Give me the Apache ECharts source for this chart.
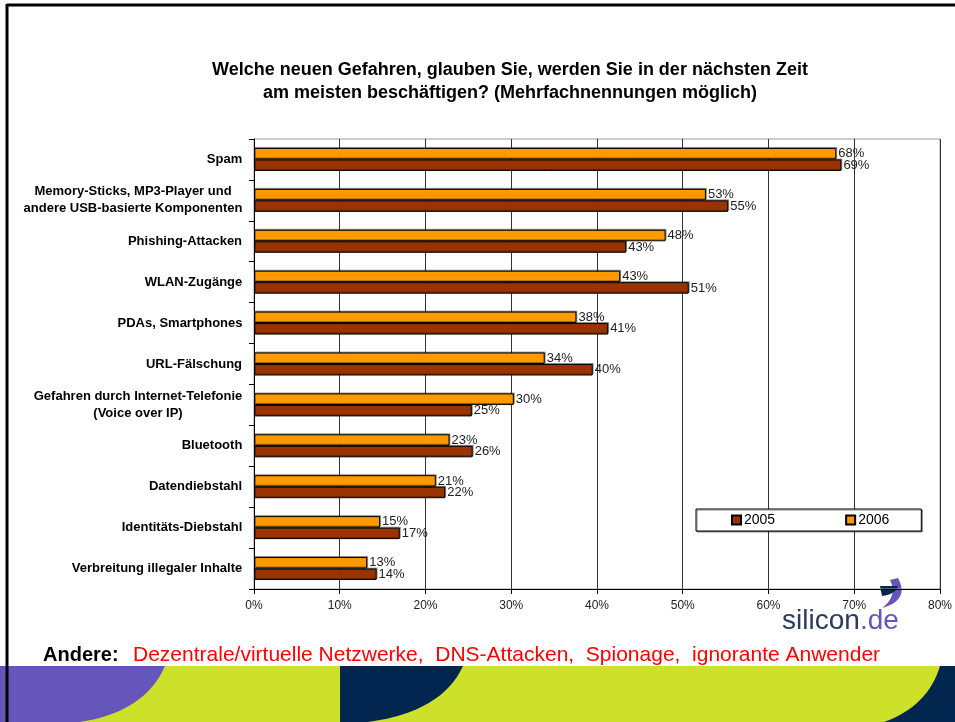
<!DOCTYPE html>
<html>
<head>
<meta charset="utf-8">
<title>Neue Gefahren</title>
<script src="https://cdn.jsdelivr.net/npm/echarts@6/dist/echarts.min.js"></script>
<style>
html, body { margin: 0; padding: 0; background: #fff; }
#chart { width: 955px; height: 722px; }
</style>
</head>
<body>
<div id="chart"></div>
<script>
var categories = [
	'Spam',
	'Memory-Sticks, MP3-Player und\nandere USB-basierte Komponenten',
	'Phishing-Attacken',
	'WLAN-Zugänge',
	'PDAs, Smartphones',
	'URL-Fälschung',
	'Gefahren durch Internet-Telefonie\n(Voice over IP)',
	'Bluetooth',
	'Datendiebstahl',
	'Identitäts-Diebstahl',
	'Verbreitung illegaler Inhalte'
];
// bar lengths
var values2005 = [68.5, 55.3, 43.4, 50.7, 41.3, 39.5, 25.4, 25.5, 22.3, 17.0, 14.3];
var values2006 = [67.9, 52.7, 48.0, 42.7, 37.6, 33.9, 30.3, 22.8, 21.2, 14.7, 13.2];
// printed labels
var labels2005 = ['69%', '55%', '43%', '51%', '41%', '40%', '25%', '26%', '22%', '17%', '14%'];
var labels2006 = ['68%', '53%', '48%', '43%', '38%', '34%', '30%', '23%', '21%', '15%', '13%'];
var seriesNames = ['2005', '2006'];
var xMin = 0, xMax = 80, xStep = 10;

var fontFam = '"Liberation Sans", Arial, sans-serif';

// centre the lines of a two line category label
var ctx = document.createElement('canvas').getContext('2d');
ctx.font = 'bold 13px ' + fontFam;
var rich = {};
categories.forEach(function (c, i) {
	var w = 0;
	c.split('\n').forEach(function (l) { w = Math.max(w, ctx.measureText(l).width); });
	rich['c' + i] = {
		width: Math.ceil(w) + 1,
		align: 'center',
		fontSize: 13,
		fontWeight: 'bold',
		fontFamily: fontFam,
		lineHeight: 17,
		color: '#000'
	};
});

// quadratic curve -> points, for the slide decoration
function qcurve(p0, c, p1) {
	var pts = [];
	for (var k = 0; k <= 16; k++) {
		var t = k / 16, u = 1 - t;
		pts.push([u * u * p0[0] + 2 * u * t * c[0] + t * t * p1[0], u * u * p0[1] + 2 * u * t * c[1] + t * t * p1[1]]);
	}
	return pts;
}

var myChart = echarts.init(document.getElementById('chart'));

var option = {
	backgroundColor: '#fff',
	animation: false,
	title: {
		text: 'Welche neuen Gefahren, glauben Sie, werden Sie in der nächsten Zeit\nam meisten beschäftigen? (Mehrfachnennungen möglich)',
		left: 505,
		top: 54,
		textAlign: 'center',
		textStyle: {
			fontSize: 18,
			fontWeight: 'bold',
			fontFamily: fontFam,
			color: '#000',
			lineHeight: 23
		}
	},
	legend: {
		data: seriesNames,
		left: 696,
		top: 509,
		icon: 'rect',
		itemWidth: 9,
		itemHeight: 9,
		itemGap: 70,
		padding: [4, 32, 4, 35],
		backgroundColor: '#fff',
		borderColor: '#000',
		borderWidth: 1,
		shadowColor: 'rgba(0,0,0,0.45)',
		shadowOffsetX: 1,
		shadowOffsetY: 1,
		textStyle: {
			fontSize: 14,
			fontFamily: fontFam,
			color: '#000',
			lineHeight: 12,
			padding: [0, 0, 0, -2]
		}
	},
	grid: {
		left: 254,
		right: 15,
		top: 139,
		bottom: 133,
		show: true,
		borderColor: '#999',
		borderWidth: 1,
		backgroundColor: 'transparent'
	},
	xAxis: {
		type: 'value',
		min: xMin,
		max: xMax,
		interval: xStep,
		axisLine: { show: true, lineStyle: { color: '#000', width: 1 } },
		axisTick: { show: true, length: 5, lineStyle: { color: '#000' } },
		splitLine: { show: true, lineStyle: { color: '#333', width: 1 } },
		axisLabel: {
			formatter: '{value}%',
			fontSize: 12,
			fontFamily: fontFam,
			color: '#222',
			margin: 11
		}
	},
	yAxis: {
		type: 'category',
		inverse: true,
		data: categories,
		axisLine: { show: true, lineStyle: { color: '#000', width: 1 } },
		axisTick: { show: true, length: 5, lineStyle: { color: '#000' } },
		axisLabel: {
			interval: 0,
			margin: 11,
			formatter: function (v, i) {
				return v.split('\n').map(function (l) { return '{c' + i + '|' + l + '}'; }).join('\n');
			},
			rich: rich
		}
	},
	series: [
		{
			name: '2006',
			type: 'bar',
			data: values2006,
			barWidth: 11.5,
			barGap: '0%',
			itemStyle: {
				color: '#FF9900',
				borderColor: '#000',
				borderWidth: 1,
				shadowColor: 'rgba(0,0,0,0.35)',
				shadowOffsetX: 1,
				shadowOffsetY: -1
			},
			label: {
				show: true,
				position: 'right',
				distance: 2,
				fontSize: 13,
				fontFamily: fontFam,
				color: '#222',
				formatter: function (p) { return labels2006[p.dataIndex]; }
			}
		},
		{
			name: '2005',
			type: 'bar',
			data: values2005,
			barWidth: 11.5,
			barGap: '0%',
			itemStyle: {
				color: '#993300',
				borderColor: '#000',
				borderWidth: 1,
				shadowColor: 'rgba(0,0,0,0.35)',
				shadowOffsetX: 1,
				shadowOffsetY: -1
			},
			label: {
				show: true,
				position: 'right',
				distance: 2,
				fontSize: 13,
				fontFamily: fontFam,
				color: '#222',
				formatter: function (p) { return labels2005[p.dataIndex]; }
			}
		}
	],
	graphic: [
		// bottom band of the slide
		{ type: 'rect', z: -10, shape: { x: 0, y: 666, width: 955, height: 60 }, style: { fill: '#CDE02A' } },
		{ type: 'polygon', z: -9, shape: { points: [[0, 666]].concat(qcurve([165, 666], [145, 712], [80, 722]), [[0, 722]]) }, style: { fill: '#6655BB' } },
		{ type: 'polygon', z: -9, shape: { points: [[340, 666]].concat(qcurve([463, 666], [442, 712], [368, 722]), [[340, 722]]) }, style: { fill: '#022650' } },
		{ type: 'polygon', z: -9, shape: { points: [[955, 666], [955, 722]].concat(qcurve([884, 722], [928, 706], [940, 666])) }, style: { fill: '#022650' } },
		// slide frame
		{ type: 'line', z: 10, shape: { x1: 7, y1: 5, x2: 955, y2: 5 }, style: { stroke: '#000', lineWidth: 3 } },
		{ type: 'line', z: 10, shape: { x1: 7, y1: 4, x2: 7, y2: 722 }, style: { stroke: '#000', lineWidth: 3 } },
		// logo
		{ type: 'polygon', z: -5, shape: { points: qcurve([898, 578], [910, 600], [882, 608]).concat(qcurve([882, 608], [898, 596], [890, 580])) }, style: { fill: '#6655BB' } },
		{ type: 'polygon', z: -5, shape: { points: [[880, 586], [898, 586]].concat(qcurve([898, 586], [896, 594], [882, 596])) }, style: { fill: '#022650' } },
		{ type: 'text', z: -5, style: { text: 'silicon', x: 782, y: 621, fill: '#2B3A5E', fontSize: 28, fontFamily: fontFam, verticalAlign: 'middle' } },
		{ type: 'text', z: -5, style: { text: '.de', x: 860, y: 621, fill: '#6655BB', fontSize: 28, fontFamily: fontFam, verticalAlign: 'middle' } },
		// footnote
		{ type: 'text', style: { text: 'Andere:', x: 43, y: 655, fill: '#000', fontSize: 20, fontWeight: 'bold', fontFamily: fontFam, verticalAlign: 'middle' } },
		{ type: 'text', style: { text: 'Dezentrale/virtuelle Netzwerke,  DNS-Attacken,  Spionage,  ignorante Anwender', x: 133, y: 655, fill: '#FF0000', fontSize: 21, fontFamily: fontFam, verticalAlign: 'middle' } }
	]
};

myChart.setOption(option);
</script>
</body>
</html>
